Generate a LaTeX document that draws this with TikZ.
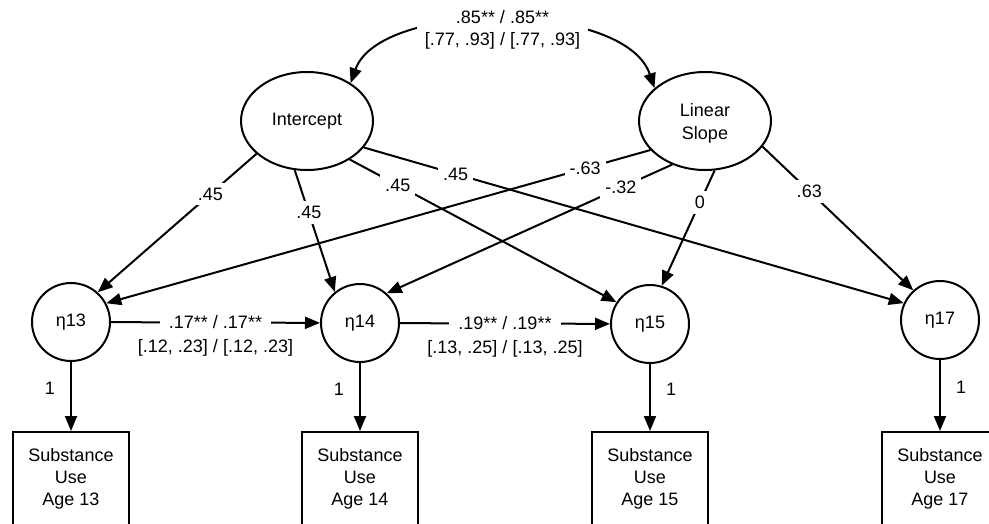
\documentclass[tikz,border=0pt]{standalone}
\usepackage{fontspec}
\setmainfont{Liberation Sans}
\usetikzlibrary{arrows.meta,shapes.geometric}
\begin{document}
\begin{tikzpicture}[x=1pt,y=-1pt,
  font=\fontsize{18}{22}\selectfont,
  lat/.style={ellipse, draw, line width=2pt, minimum width=132pt, minimum height=98pt, inner sep=0pt, align=center},
  eta/.style={circle, draw, line width=2pt, minimum size=78pt, inner sep=0pt},
  obs/.style={rectangle, draw, line width=2pt, minimum width=116pt, minimum height=94pt, inner sep=0pt, align=center},
  arr/.style={line width=2pt, -{Triangle[length=15pt,width=12pt]}},
  coef/.style={fill=white, inner sep=5pt},
  one/.style={inner sep=2pt}
]
\useasboundingbox (0,0) rectangle (989,523);

% latent growth factors
\node[lat] (I) at (307,121) {Intercept};
\node[lat, text depth=0pt] (S) at (705,121) {Linear\\[1pt]Slope};

% latent states
\node[eta] (e13) at (71,322) {η13};
\node[eta] (e14) at (360,323) {η14};
\node[eta] (e15) at (650,324) {η15};
\node[eta] (e17) at (940,320) {η17};

% observed
\node[obs] (b13) at (71,479) {Substance\\Use\\Age 13};
\node[obs] (b14) at (360,479) {Substance\\Use\\Age 14};
\node[obs] (b15) at (650,479) {Substance\\Use\\Age 15};
\node[obs] (b17) at (940,479) {Substance\\Use\\Age 17};

% covariance
\draw[line width=2pt, {Triangle[length=15pt,width=12pt]}-{Triangle[length=15pt,width=12pt]}]
  (I.41) .. controls (380,0) and (625,0) .. (S.147)
  node[pos=.5, yshift=-8pt, fill=white, align=center, inner xsep=8pt, inner ysep=3pt] (cov) {.85** / .85**\\{}[.77, .93] / [.77, .93]};

% intercept loadings
\draw[arr] (I.213) -- node[coef, pos=.29] (l1) {.45} (e13.48);
\draw[arr] (I.256) -- node[coef, pos=.35] (l2) {.45} (e14.129);
\draw[arr] (I.318) -- node[coef, pos=.18] (l3) {.45} (e15.147);
\draw[arr] (I.335) -- node[coef, pos=.17] (l4) {.45} (e17.155);

% slope loadings
\draw[arr] (S.208) -- node[coef, pos=.12] (m1) {-.63} (e13.28);
\draw[arr] (S.233) -- node[coef, pos=.18] (m2) {-.32} (e14.48);
\draw[arr] (S.281) -- node[coef, pos=.28] (m3) {0} (e15.73);
\draw[arr] (S.336) -- node[coef, pos=.31] (m4) {.63} (e17.132);

% autoregressive paths
\draw[arr] (e13) -- node[coef, inner xsep=9pt, pos=.5] (a1) {.17** / .17**}
  node[pos=.5, yshift=-25pt] (a1b) {[.12, .23] / [.12, .23]} (e14);
\draw[arr] (e14) -- node[coef, inner xsep=9pt, pos=.5] (a2) {.19** / .19**}
  node[pos=.5, yshift=-25pt] (a2b) {[.13, .25] / [.13, .25]} (e15);

% measurement paths
\draw[arr] (e13) -- node[one, pos=.38, left=13pt] (f1) {1} (b13);
\draw[arr] (e14) -- node[one, pos=.38, left=13pt] (f2) {1} (b14);
\draw[arr] (e15) -- node[one, pos=.38, right=13pt] (f3) {1} (b15);
\draw[arr] (e17) -- node[one, pos=.38, right=13pt] (f4) {1} (b17);
\end{tikzpicture}
\end{document}
